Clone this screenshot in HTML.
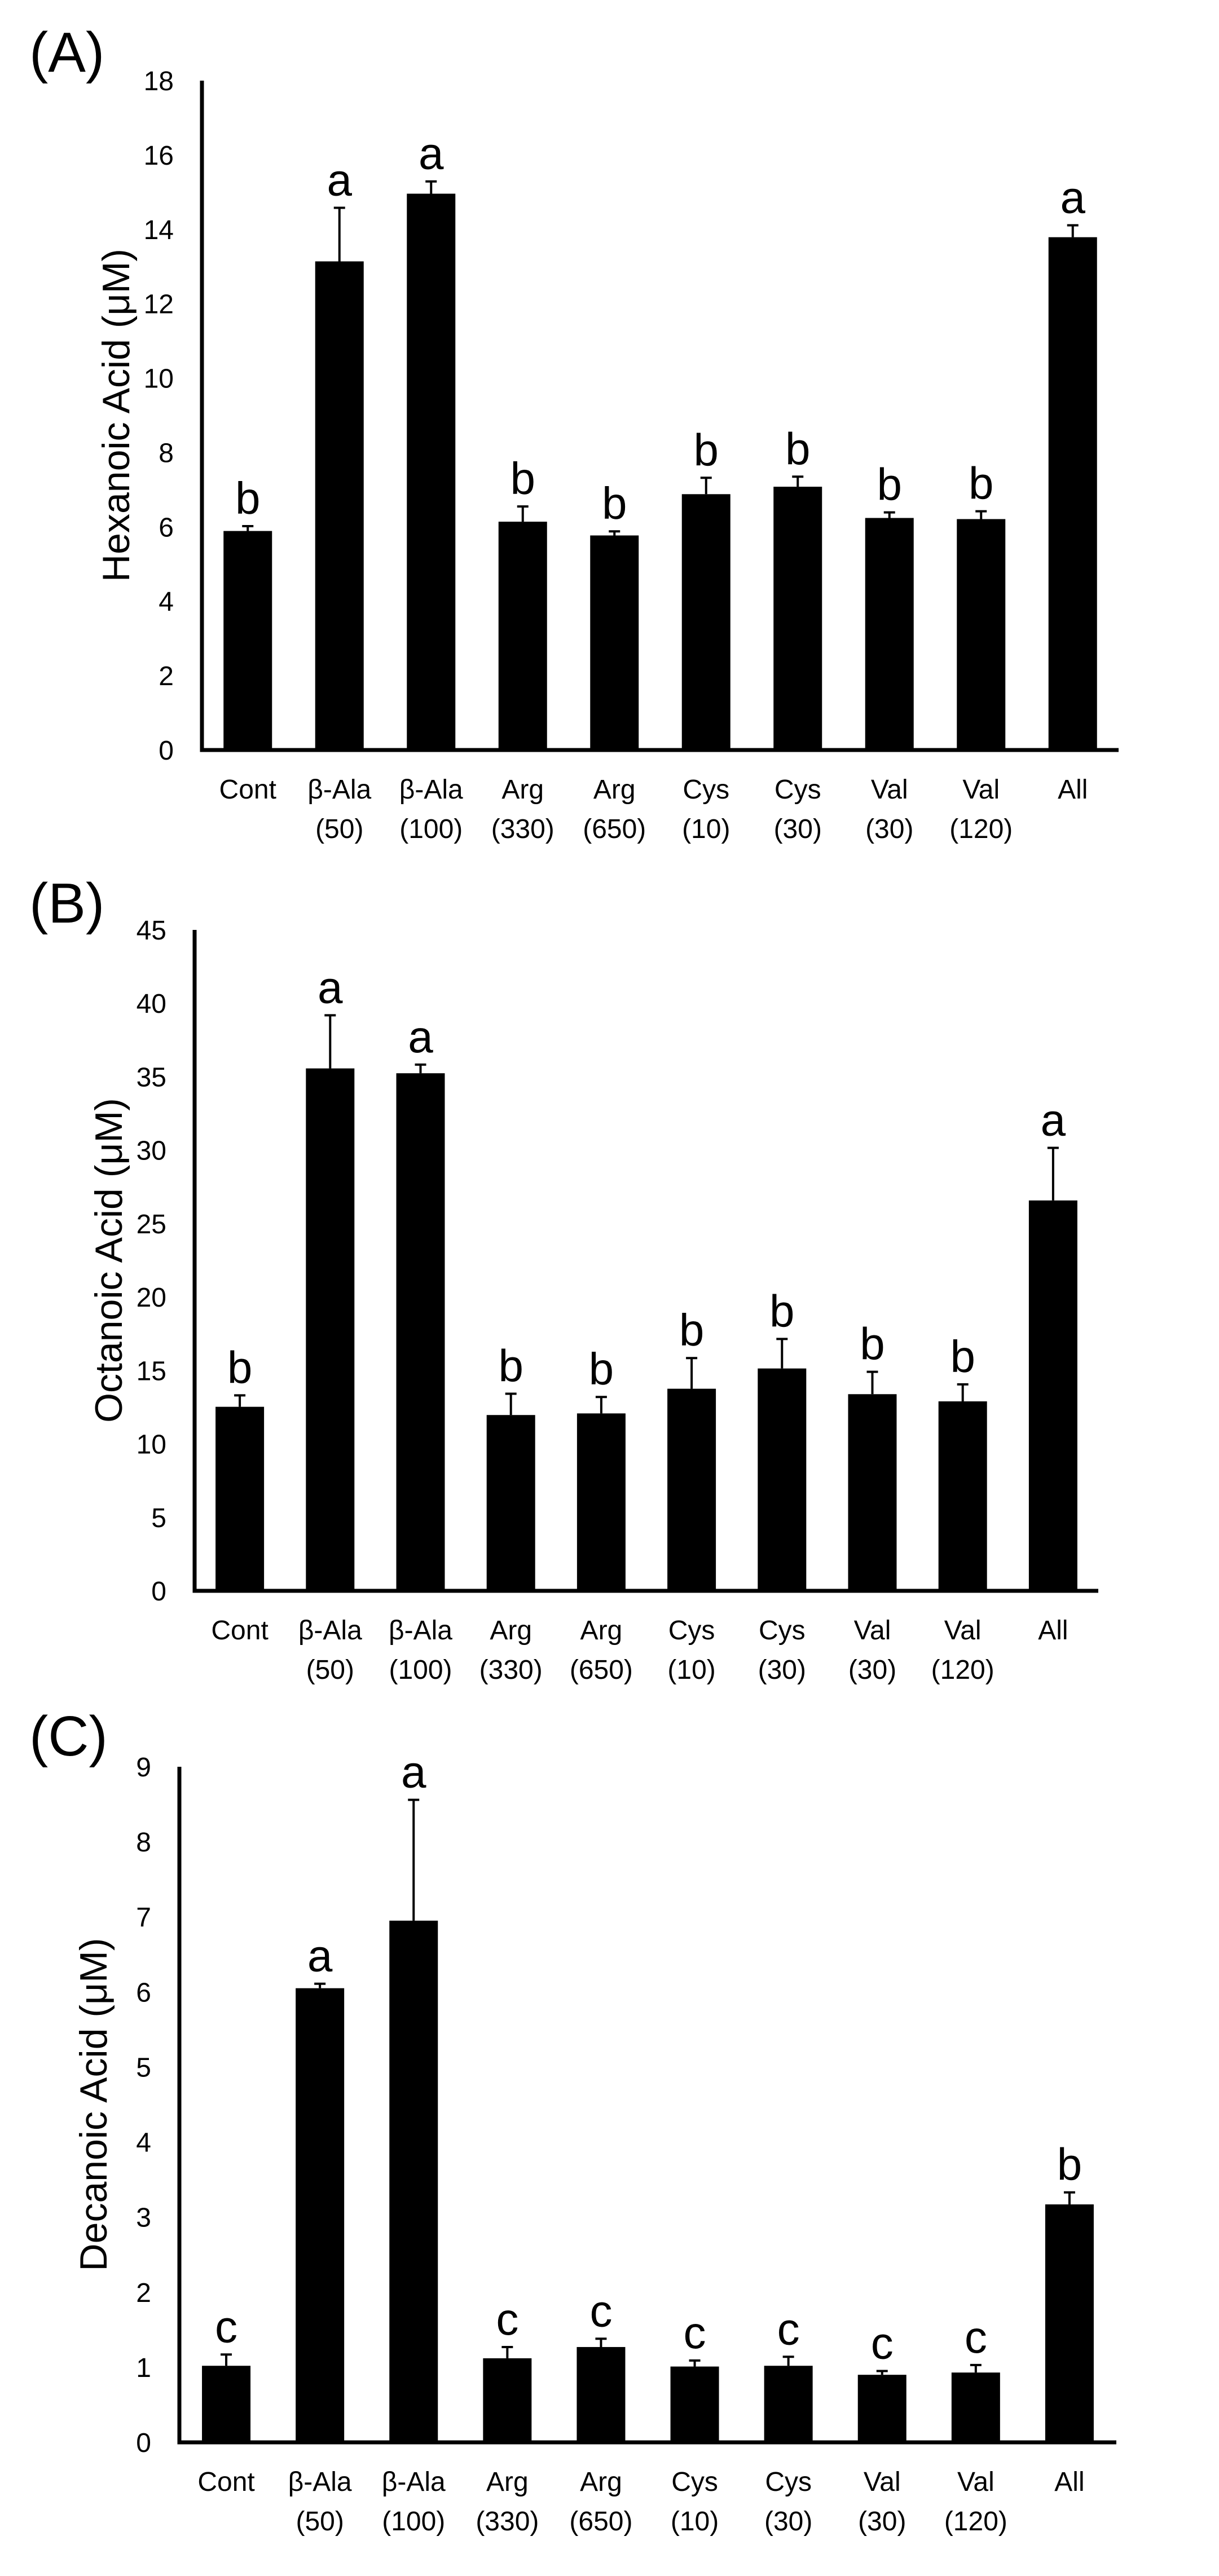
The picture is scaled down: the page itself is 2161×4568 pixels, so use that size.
<!DOCTYPE html>
<html><head><meta charset="utf-8"><style>
html,body{margin:0;padding:0;background:#fff;}
svg{display:block;font-family:"Liberation Sans",sans-serif;}
</style></head><body>
<svg id="fig" width="2161" height="4568" viewBox="0 0 2161 4568" xmlns="http://www.w3.org/2000/svg"></svg>
<script>
const categories1 = ["Cont","β-Ala","β-Ala","Arg","Arg","Cys","Cys","Val","Val","All"];
const categories2 = ["","(50)","(100)","(330)","(650)","(10)","(30)","(30)","(120)",""];
const hexValues = [5.89,13.14,14.96,6.14,5.77,6.88,7.08,6.24,6.21,13.79];
const hexErrors = [0.13,1.44,0.33,0.41,0.11,0.44,0.27,0.15,0.21,0.32];
const hexLetters = ["b","a","a","b","b","b","b","b","b","a"];
const hexTicks = [0,2,4,6,8,10,12,14,16,18];
const octValues = [12.53,35.57,35.24,11.97,12.08,13.76,15.14,13.39,12.9,26.58];
const octErrors = [0.78,3.62,0.59,1.45,1.12,2.09,2.01,1.52,1.16,3.58];
const octLetters = ["b","a","a","b","b","b","b","b","b","a"];
const octTicks = [0,5,10,15,20,25,30,35,40,45];
const decValues = [1.02,6.05,6.95,1.12,1.27,1.01,1.02,0.90,0.93,3.17];
const decErrors = [0.15,0.06,1.61,0.15,0.11,0.08,0.12,0.05,0.10,0.16];
const decLetters = ["c","a","a","c","c","c","c","c","c","b"];
const decTicks = [0,1,2,3,4,5,6,7,8,9];

const NS="http://www.w3.org/2000/svg";
const svg=document.getElementById('fig');
function mk(tag,attrs,parent){const e=document.createElementNS(NS,tag);for(const k in attrs)e.setAttribute(k,attrs[k]);(parent||svg).appendChild(e);return e;}

function panel(cfg){
  const g=mk('g',{});
  
  
  const x0=cfg.x0,x1=cfg.x1,yTop=cfg.yTop,yBot=cfg.yBot,max=cfg.ticks[cfg.ticks.length-1];
  const yS=v=>yBot-(v/max)*(yBot-yTop);
  const n=cfg.values.length,pitch=(x1-x0)/n;
  const xC=i=>x0+pitch*(i+0.5);
  const lab=mk('text',{x:52,y:cfg.labelY,'font-size':100},g);lab.textContent=cfg.label;
  
  
  cfg.ticks.forEach(t=>{
    const tx=mk('text',{x:x0-50,y:yS(t)+17,'font-size':48,'text-anchor':'end'},g);tx.textContent=t;
    
    
  });
  const cy=(yTop+yBot)/2,cx=x0-152;
  const tt=mk('text',{x:cx,y:cy,'font-size':68,'text-anchor':'middle','dominant-baseline':'central',transform:`rotate(-90 ${cx} ${cy})`},g);
  tt.textContent=cfg.title;
  
  
  cfg.values.forEach((v,i)=>{
    const bw=86,c=xC(i);
    const r=mk('rect',{x:c-bw/2,y:yS(v),width:bw,height:yBot-yS(v),fill:'#000'},g);
    
    
    const et=yS(v+cfg.errors[i]);
    const el=mk('path',{d:`M${c} ${yS(v)}V${et}M${c-10} ${et}H${c+10}`,stroke:'#000','stroke-width':4,fill:'none'},g);
    
    
    const lt=mk('text',{x:c,y:et-22,'font-size':80,'text-anchor':'middle'},g);lt.textContent=cfg.letters[i];
    
    
    const c1=mk('text',{x:c,y:yBot+86,'font-size':48,'text-anchor':'middle'},g);c1.textContent=categories1[i];
    
    
    if(categories2[i]){const c2=mk('text',{x:c,y:yBot+156,'font-size':48,'text-anchor':'middle'},g);c2.textContent=categories2[i];
    
    }
  });
  const ax=mk('path',{d:`M${x0} ${yTop}V${yBot}H${x1}`,stroke:'#000','stroke-width':7,fill:'none'},g);
  
  
}
panel({id:'panel-a-hexanoic',label:'(A)',labelY:127,x0:358,x1:1983,yTop:143,yBot:1330,ticks:hexTicks,values:hexValues,errors:hexErrors,letters:hexLetters,title:'Hexanoic Acid (μM)'});
panel({id:'panel-b-octanoic',label:'(B)',labelY:1636,x0:345,x1:1947,yTop:1649,yBot:2821,ticks:octTicks,values:octValues,errors:octErrors,letters:octLetters,title:'Octanoic Acid (μM)'});
panel({id:'panel-c-decanoic',label:'(C)',labelY:3113,x0:318,x1:1979,yTop:3133,yBot:4331,ticks:decTicks,values:decValues,errors:decErrors,letters:decLetters,title:'Decanoic Acid (μM)'});
</script>
</body></html>
